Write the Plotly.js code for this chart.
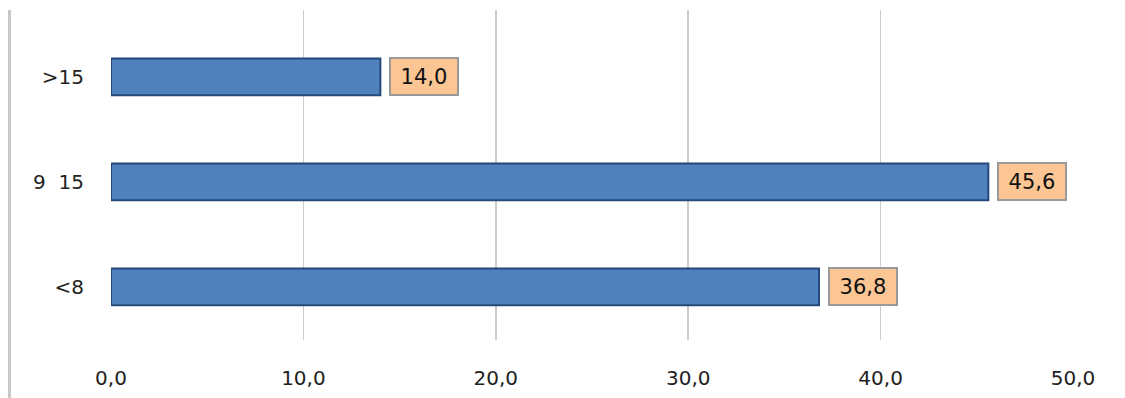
<!DOCTYPE html>
<html>
<head>
<meta charset="utf-8">
<script src="https://cdn.plot.ly/plotly-3.0.1.min.js"></script>
<style>html,body{margin:0;padding:0;background:#fff;}#chart{width:1125px;height:398px;}</style>
</head>
<body>
<div id="chart"></div>
<script>
const categories = ["<8", "9\u00a0\u00a015", ">15"];
const values = [36.8, 45.6, 14.0];
const xTicks = [0, 10, 20, 30, 40, 50];

const fmt = v => v.toFixed(1).replace('.', ',');

const trace = {
  type: 'bar',
  orientation: 'h',
  x: values,
  y: categories,
  width: 0.35,
  marker: { color: '#4F81BD', line: { color: '#25497A', width: 2 } },
  hoverinfo: 'none'
};

const annotations = values.map((v, i) => ({
  x: v, y: categories[i], xref: 'x', yref: 'y',
  text: fmt(v), showarrow: false,
  xanchor: 'left', yanchor: 'middle', xshift: 9,
  width: 62, height: 31, align: 'center', valign: 'middle',
  bgcolor: '#FBC594', bordercolor: '#9A9A9A', borderwidth: 2, borderpad: 2,
  font: { family: 'DejaVu Sans, sans-serif', size: 21, color: '#111' }
}));

const layout = {
  width: 1125, height: 398,
  margin: { l: 111, r: 52, t: 10, b: 58 },
  paper_bgcolor: '#fff', plot_bgcolor: '#fff',
  separators: ',.',
  showlegend: false,
  font: { family: 'DejaVu Sans, sans-serif', size: 20, color: '#222' },
  xaxis: {
    range: [0, 50], tickvals: xTicks, tickformat: '.1f',
    showgrid: true, gridcolor: '#CDCDCD', gridwidth: 1.5,
    zeroline: false, showline: false, ticks: '',
    ticklabelstandoff: 24, fixedrange: true
  },
  yaxis: {
    type: 'category', categoryorder: 'array', categoryarray: categories,
    range: [-0.505, 2.638],
    showgrid: false, zeroline: false, showline: false, ticks: '',
    ticklabelstandoff: 26, fixedrange: true
  },
  annotations: annotations,
  shapes: [{
    type: 'line', xref: 'paper', yref: 'paper',
    x0: -0.1055, x1: -0.1055, y0: 1, y1: -0.2,
    line: { color: '#C8C8C8', width: 3 }
  }]
};

Plotly.newPlot('chart', [trace], layout, { displayModeBar: false, staticPlot: true });
</script>
</body>
</html>
